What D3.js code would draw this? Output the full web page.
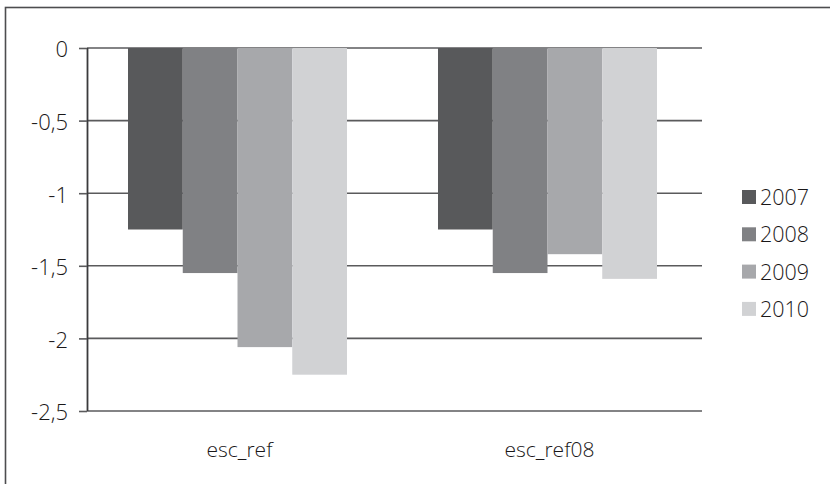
<!DOCTYPE html>
<html>
<head>
<meta charset="utf-8">
<script src="https://cdn.jsdelivr.net/npm/d3@7"></script>
<style>
  html, body { margin: 0; padding: 0; background: #fff; }
  svg { display: block; }
  text { font-family: "Open Sans", "DejaVu Sans", sans-serif; font-weight: 300; fill: #1a1718; }
</style>
</head>
<body>
<svg id="chart" width="830" height="484"></svg>
<script>
// Scenario groups along the x axis
const categories = ["esc_ref", "esc_ref08"];
// Years shown as series
const years = ["2007", "2008", "2009", "2010"];
// Values per year, one entry per scenario
const values2007 = [-1.25, -1.25];
const values2008 = [-1.55, -1.55];
const values2009 = [-2.06, -1.42];
const values2010 = [-2.25, -1.59];
// Y axis ticks and their labels (comma decimal separator)
const yTicks = [0, -0.5, -1, -1.5, -2, -2.5];
const yTickLabels = ["0", "-0,5", "-1", "-1,5", "-2", "-2,5"];

const seriesValues = [values2007, values2008, values2009, values2010];
const colors = ["#58595b", "#808184", "#a7a8ab", "#d1d2d4"];

const svg = d3.select("#chart");

// Outer frame
svg.append("rect")
  .attr("x", 5.5).attr("y", 7.5)
  .attr("width", 900).attr("height", 600)
  .attr("fill", "none").attr("stroke", "#4d4d4f").attr("stroke-width", 1.6);

const y = d3.scaleLinear().domain([-2.5, 0]).range([411, 48]);
const x0 = d3.scaleBand().domain(categories).range([82.5, 702.5])
  .paddingInner(0.2935).paddingOuter(0.1468);
const x1 = d3.scaleBand().domain(years).range([0, x0.bandwidth()]);

const plotLeft = 87, plotRight = 702;

// Horizontal gridlines
svg.append("g").selectAll("line").data(yTicks).join("line")
  .attr("x1", plotLeft).attr("x2", plotRight)
  .attr("y1", d => y(d)).attr("y2", d => y(d))
  .attr("stroke", "#5a5a5c").attr("stroke-width", 1.6);

// Bars
const rows = [];
categories.forEach((c, i) => {
  years.forEach((yr, j) => rows.push({ cat: c, year: yr, value: seriesValues[j][i], color: colors[j] }));
});
svg.append("g").selectAll("rect").data(rows).join("rect")
  .attr("x", d => x0(d.cat) + x1(d.year))
  .attr("width", x1.bandwidth())
  .attr("y", d => y(Math.max(0, d.value)))
  .attr("height", d => Math.abs(y(d.value) - y(0)))
  .attr("fill", d => d.color);

// Y axis
const yAxis = d3.axisLeft(y)
  .tickValues(yTicks)
  .tickFormat((d, i) => yTickLabels[i])
  .tickSize(8)
  .tickPadding(11);
const gy = svg.append("g").attr("transform", `translate(${plotLeft},0)`).call(yAxis);
gy.select(".domain").attr("stroke", "#3a3a3c").attr("stroke-width", 1.8)
  .attr("d", `M0.5,${y(0)}V${y(-2.5)}`);
gy.selectAll(".tick line").attr("stroke", "#5a5a5c").attr("stroke-width", 1.6);
gy.selectAll(".tick text").attr("font-size", 22).attr("fill", "#1a1718")
  .attr("dy", "0.4em")
  .style("font-family", '"Open Sans", sans-serif').style("font-weight", 300);

// Category labels
svg.append("g").selectAll("text").data(categories).join("text")
  .attr("x", d => x0(d) + x0.bandwidth() / 2 + 2)
  .attr("y", 457)
  .attr("text-anchor", "middle")
  .attr("font-size", 21)
  .text(d => d);

// Legend
const legend = svg.append("g").selectAll("g").data(years).join("g")
  .attr("transform", (d, i) => `translate(742, ${197 + i * 37.3})`);
legend.append("rect")
  .attr("x", 0).attr("y", -7).attr("width", 14).attr("height", 14)
  .attr("fill", (d, i) => colors[i]);
legend.append("text")
  .attr("x", 18).attr("y", 8)
  .attr("font-size", 21.5)
  .text(d => d);
</script>
</body>
</html>
